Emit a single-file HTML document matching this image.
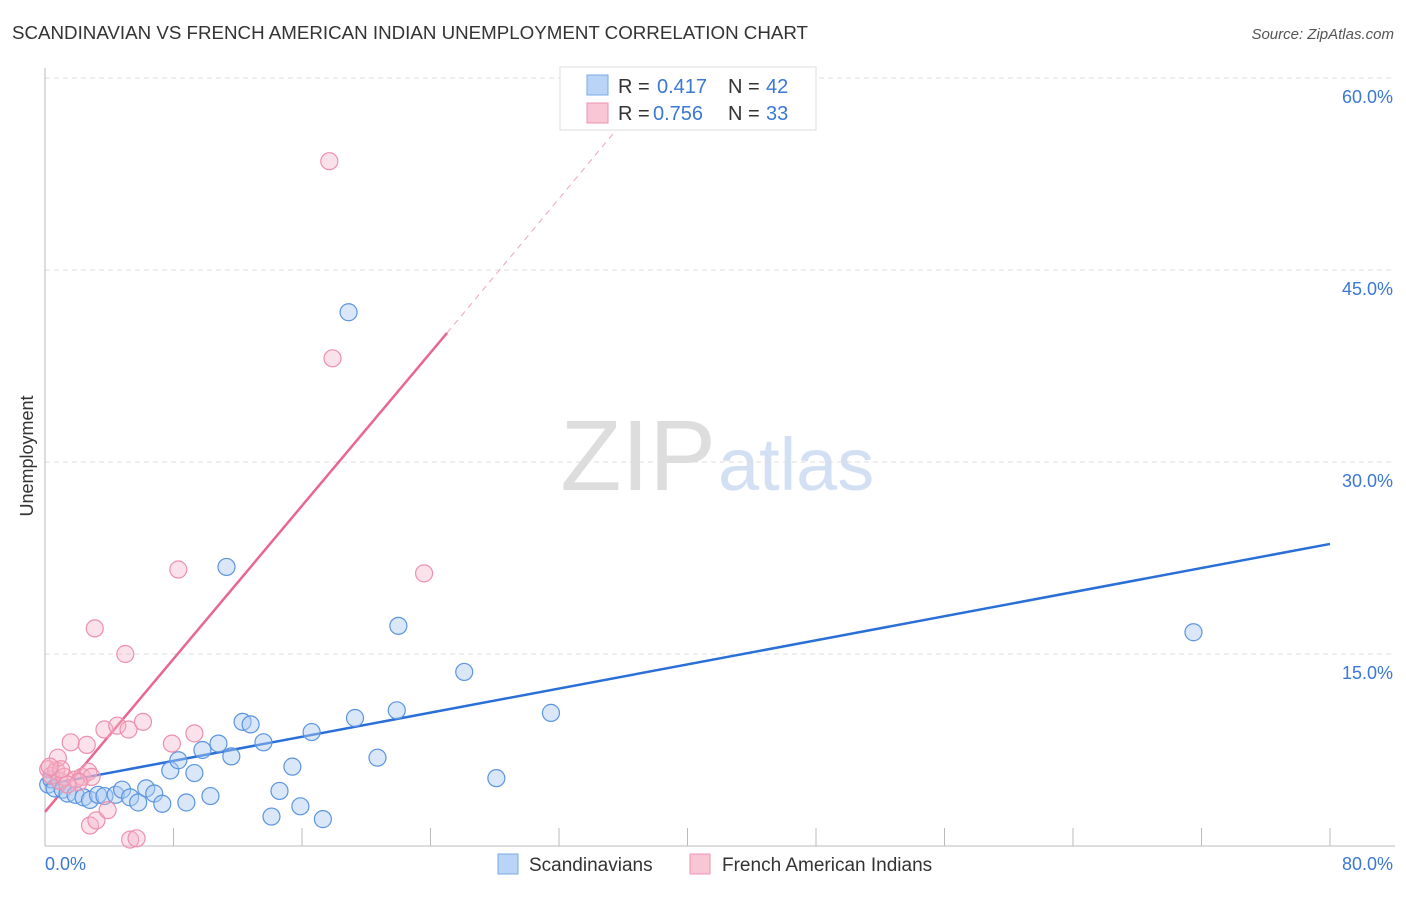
<!DOCTYPE html>
<html><head><meta charset="utf-8"><style>
body{margin:0;background:#fff;font-family:"Liberation Sans",sans-serif;}
svg text{font-family:"Liberation Sans",sans-serif;}
</style></head><body>
<svg width="1406" height="892">
<text x="12" y="39" font-size="18.6" fill="#333" textLength="796" lengthAdjust="spacingAndGlyphs">SCANDINAVIAN VS FRENCH AMERICAN INDIAN UNEMPLOYMENT CORRELATION CHART</text>
<text x="1394" y="39" font-size="15" fill="#555" font-style="italic" text-anchor="end">Source: ZipAtlas.com</text>
<text x="716" y="490" font-size="100" fill="#ddd" text-anchor="end" font-family="Liberation Serif">ZIP</text>
<text x="718" y="490" font-size="74" fill="#d3e0f3">atlas</text>
<text transform="translate(33,456) rotate(-90)" font-size="18" fill="#333" text-anchor="middle">Unemployment</text>
<g id="grid"></g><g id="axes"></g><g id="trend"></g><g id="pts"></g>
<g>
<rect x="560" y="67" width="256" height="63" fill="#fff" stroke="#ddd"/>
<rect x="587" y="75" width="21" height="20" fill="#b9d4f6" stroke="#7aa7e6"/>
<text x="618" y="93" font-size="20" fill="#333">R = </text><text x="657" y="93" font-size="20" fill="#3a78d4">0.417</text>
<text x="728" y="93" font-size="20" fill="#333">N = </text><text x="766" y="93" font-size="20" fill="#3a78d4">42</text>
<rect x="587" y="103" width="21" height="20" fill="#f9c6d5" stroke="#ee93ae"/>
<text x="618" y="120" font-size="20" fill="#333">R = </text><text x="653" y="120" font-size="20" fill="#3a78d4">0.756</text>
<text x="728" y="120" font-size="20" fill="#333">N = </text><text x="766" y="120" font-size="20" fill="#3a78d4">33</text>
</g>
<g>
<rect x="498" y="854" width="20" height="20" fill="#b9d4f6" stroke="#7aa7e6"/>
<text x="529" y="871" font-size="19" fill="#333">Scandinavians</text>
<rect x="690" y="854" width="20" height="20" fill="#f9c6d5" stroke="#ee93ae"/>
<text x="722" y="871" font-size="19" fill="#333">French American Indians</text>
</g>
</svg>
<script>
const yTicks=[15,30,45,60];
const yTickLabels=["15.0%","30.0%","45.0%","60.0%"];
const xTicks=[8,16,24,32,40,48,56,64,72,80];
const blueX=[0.2,0.4,0.6,1.1,1.4,1.9,2.4,2.8,3.3,3.7,4.4,4.8,5.3,5.8,6.3,6.8,7.3,7.8,8.3,8.8,9.3,9.8,10.3,10.8,11.6,12.3,12.8,13.6,14.1,14.6,15.4,15.9,16.6,17.3,18.9,19.3,20.7,21.9,22.0,26.1,28.1,31.5,71.5,11.3];
const blueY=[4.8,5.2,4.5,4.4,4.1,4.0,3.8,3.6,4.0,3.9,4.0,4.4,3.8,3.4,4.5,4.1,3.3,5.9,6.7,3.4,5.7,7.5,3.9,8.0,7.0,9.7,9.5,8.1,2.3,4.3,6.2,3.1,8.9,2.1,41.7,10.0,6.9,10.6,17.2,13.6,5.3,10.4,16.7,21.8];
const pinkX=[0.2,0.4,0.7,0.9,1.2,1.6,1.9,2.3,2.7,2.9,0.8,2.6,2.8,3.2,3.9,3.7,4.5,5.2,6.1,5.0,3.1,7.9,9.3,8.3,17.7,17.9,23.6,5.3,5.7,1.0,2.1,1.4,0.3];
const pinkY=[6.0,5.5,5.9,5.1,5.4,8.1,5.2,5.4,5.8,5.4,6.9,7.9,1.6,2.0,2.8,9.1,9.4,9.1,9.7,15.0,17.0,8.0,8.8,21.6,53.5,38.1,21.3,0.5,0.6,6.0,5.0,4.8,6.2];
const blueTrend=[[0,4.77],[80,23.6]];
const pinkTrend=[[0,2.66],[25.03,40.08]];
const pinkDash=[[25.03,40.08],[38.3,60.06]];
const sx=v=>45+v*16.0625, sy=v=>846-v*12.8;
const NS="http://www.w3.org/2000/svg";
function mk(t,a,p){const e=document.createElementNS(NS,t);for(const k in a)e.setAttribute(k,a[k]);document.getElementById(p).appendChild(e);return e;}
yTicks.forEach((t,i)=>{
 const l=mk('line',{x1:45,x2:1395,y1:sy(t),y2:sy(t),stroke:'#ddd','stroke-dasharray':'5,4'},'grid');
 
 
 const tx=mk('text',{x:1393,y:sy(t)+25,'font-size':18,fill:'#3a78d4','text-anchor':'end'},'grid');tx.textContent=yTickLabels[i];
 
 
});
mk('line',{x1:45,x2:45,y1:68,y2:846,stroke:'#bbb'},'axes');
mk('line',{x1:45,x2:1395,y1:846,y2:846,stroke:'#bbb'},'axes');
xTicks.forEach(t=>{const l=mk('line',{x1:sx(t),x2:sx(t),y1:828,y2:846,stroke:'#bbb'},'axes');
 
 });
let a=mk('text',{x:45,y:870,'font-size':18,fill:'#3a78d4'},'axes');a.textContent='0.0%';


a=mk('text',{x:1393,y:870,'font-size':18,fill:'#3a78d4','text-anchor':'end'},'axes');a.textContent='80.0%';


blueX.forEach((x,i)=>{const c=mk('circle',{cx:sx(x),cy:sy(blueY[i]),r:8.5,fill:'rgba(170,202,242,0.45)',stroke:'#5b95e0','stroke-width':1.2},'pts');
 
 });
pinkX.forEach((x,i)=>{const c=mk('circle',{cx:sx(x),cy:sy(pinkY[i]),r:8.5,fill:'rgba(246,180,200,0.4)',stroke:'#ee8fae','stroke-width':1.2},'pts');
 
 });
let t=mk('line',{x1:sx(blueTrend[0][0]),y1:sy(blueTrend[0][1]),x2:sx(blueTrend[1][0]),y2:sy(blueTrend[1][1]),stroke:'#2a6fd6','stroke-width':2.5},'trend');


t=mk('line',{x1:sx(pinkTrend[0][0]),y1:sy(pinkTrend[0][1]),x2:sx(pinkTrend[1][0]),y2:sy(pinkTrend[1][1]),stroke:'#e8668f','stroke-width':2.5},'trend');


t=mk('line',{x1:sx(pinkDash[0][0]),y1:sy(pinkDash[0][1]),x2:sx(pinkDash[1][0]),y2:sy(pinkDash[1][1]),stroke:'#f0a3bb','stroke-width':1,'stroke-dasharray':'6,5'},'trend');


</script>
</body></html>
